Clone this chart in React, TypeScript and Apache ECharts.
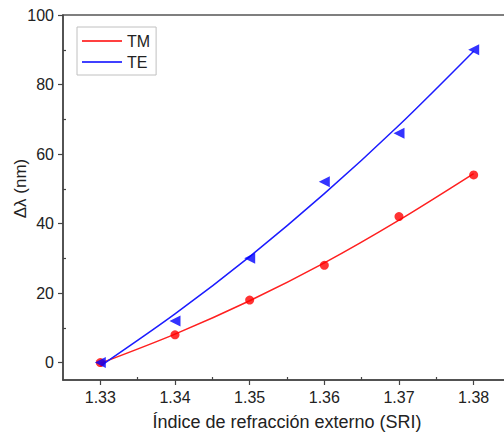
import React, { useEffect, useRef } from "react";
import * as echarts from "echarts";

const sri = [1.33, 1.34, 1.35, 1.36, 1.37, 1.38];
const tmData = [0, 8, 18, 28, 42, 54];
const teData = [0, 12, 30, 52, 66, 90];
const tmFit = [-0.2, 8.2, 17.8, 28.7, 41, 54.4];
const teFit = [-1, 14, 30.5, 48.6, 68.3, 89.6];
const xLabels = [1.33, 1.34, 1.35, 1.36, 1.37, 1.38];
const xMinor = [1.335, 1.345, 1.355, 1.365, 1.375];
const yLabels = [0, 20, 40, 60, 80, 100];
const yMinor = [10, 30, 50, 70, 90];

const FONT = "Liberation Sans";

export default function App() {
  const ref = useRef<HTMLDivElement>(null);
  useEffect(() => {
    if (!ref.current) return;
    const chart = echarts.init(ref.current, null, { renderer: "svg" });
    const pair = (xs: number[], ys: number[]) => xs.map((x, i) => [x, ys[i]]);
    const axisCommon = { min: 1.325, max: 1.385, type: "value" as const };
    chart.setOption({
      animation: false,
      backgroundColor: "#fff",
      textStyle: { fontFamily: FONT },
      grid: {
        left: 63,
        top: 15,
        right: -7,
        bottom: 55,
        show: true,
        borderColor: "#555",
        borderWidth: 1.5,
        backgroundColor: "transparent",
        outerBoundsMode: "none",
      },
      legend: {
        orient: "vertical",
        left: 77,
        top: 27,
        padding: [5, 6, 4, 5],
        itemGap: 3,
        itemWidth: 40,
        itemHeight: 2,
        icon: "rect",
        borderColor: "#c0c0c0",
        borderWidth: 1,
        data: ["TM", "TE"],
        textStyle: { fontFamily: FONT, fontSize: 16, color: "#222", padding: [0, 0, 0, 0], lineHeight: 18 },
      },
      xAxis: [
        {
          ...axisCommon,
          position: "bottom",
          name: "Índice de refracción externo (SRI)",
          nameLocation: "middle",
          nameGap: 33,
          nameMoveOverlap: false,
          nameTextStyle: { fontFamily: FONT, fontSize: 18, color: "#222" },
          axisLine: { onZero: false, lineStyle: { color: "#444", width: 1.5 } },
          axisTick: { customValues: xLabels, length: 5, lineStyle: { color: "#444", width: 1.2 } },
          axisLabel: {
            customValues: xLabels,
            formatter: (v: number) => v.toFixed(2),
            fontFamily: FONT,
            fontSize: 16,
            color: "#222",
            margin: 9,
          },
          splitLine: { show: false },
        },
        {
          ...axisCommon,
          position: "bottom",
          axisLine: { show: false, onZero: false },
          axisTick: { customValues: xMinor, inside: true, length: 3, lineStyle: { color: "#444", width: 1.2 } },
          axisLabel: { show: false },
          splitLine: { show: false },
        },
      ],
      yAxis: [
        {
          type: "value",
          min: -5,
          max: 100,
          name: "Δλ (nm)",
          nameLocation: "middle",
          nameGap: 34,
          nameMoveOverlap: false,
          nameTextStyle: { fontFamily: FONT, fontSize: 17, color: "#222", padding: [0, 0, 0, 18] },
          axisLine: { show: true, onZero: false, lineStyle: { color: "#444", width: 1.5 } },
          axisTick: { show: true, customValues: yLabels, length: 5, lineStyle: { color: "#444", width: 1.2 } },
          axisLabel: { customValues: yLabels, fontFamily: FONT, fontSize: 16, color: "#222", margin: 9 },
          splitLine: { show: false },
        },
        {
          type: "value",
          min: -5,
          max: 100,
          position: "left",
          axisLine: { show: false, onZero: false },
          axisTick: { show: true, customValues: yMinor, inside: true, length: 3, lineStyle: { color: "#444", width: 1.2 } },
          axisLabel: { show: false },
          splitLine: { show: false },
        },
      ],
      series: [
        {
          name: "TM",
          type: "line",
          data: pair(sri, tmFit),
          smooth: 0.3,
          symbol: "none",
          lineStyle: { color: "#ff2020", width: 1.5 },
          itemStyle: { color: "#ff4040" },
          z: 3,
        },
        {
          name: "TE",
          type: "line",
          data: pair(sri, teFit),
          smooth: 0.3,
          symbol: "none",
          lineStyle: { color: "#1c1cff", width: 1.5 },
          itemStyle: { color: "#4040ff" },
          z: 3,
        },
        {
          name: "TM data",
          type: "scatter",
          data: pair(sri, tmData),
          symbol: "circle",
          symbolSize: 9,
          itemStyle: { color: "#ff0000" },
          z: 4,
        },
        {
          name: "TE data",
          type: "scatter",
          data: pair(sri, teData),
          symbol: "triangle",
          symbolRotate: 90,
          symbolSize: 11,
          itemStyle: { color: "#0000ff" },
          z: 5,
        },
      ],
    });
    return () => chart.dispose();
  }, []);
  return (
    <div
      ref={ref}
      style={{ position: "fixed", left: 0, top: 0, width: 504, height: 435 }}
    />
  );
}
